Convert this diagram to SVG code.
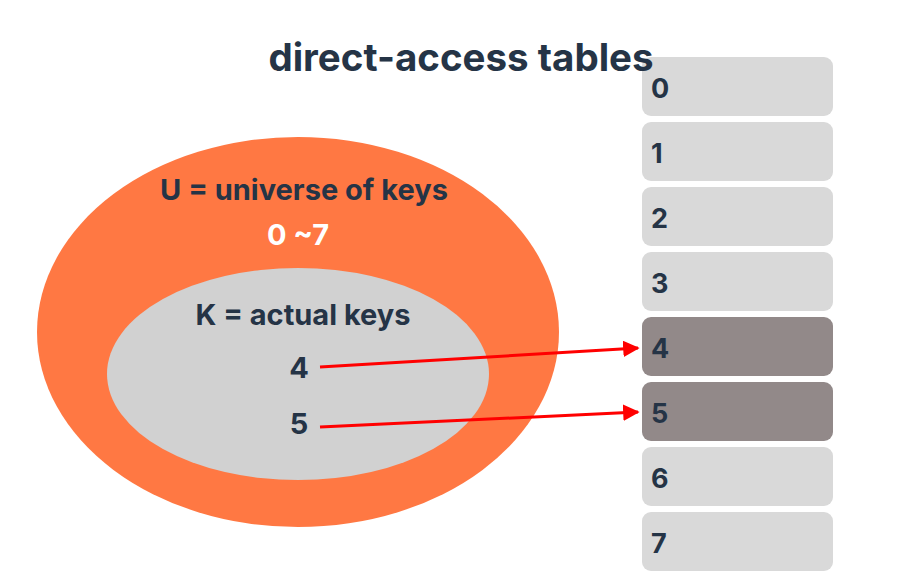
<svg xmlns="http://www.w3.org/2000/svg" width="900" height="585" viewBox="0 0 900 585">
<style>
text{font-family:Inter,"Liberation Sans",sans-serif;font-weight:700;fill:#253446}
.cell{fill:#d9d9d9}
.hit{fill:#928989}
.idx{font-size:27px}
.lbl{font-size:29px;text-anchor:middle}
.conn{stroke:#ff0000;stroke-width:3;fill:none}
</style>
<defs>
<marker id="ah" viewBox="0 0 10 10" refX="9" refY="5" markerWidth="5.5" markerHeight="5.5" markerUnits="strokeWidth" orient="auto">
<path d="M0,0 L10,5 L0,10 z" fill="#ff0000"/>
</marker>
</defs>
<rect width="900" height="585" fill="#ffffff"/>
<g id="universe">
<ellipse cx="298" cy="332" rx="261" ry="195" fill="#ff7843"/>
<text class="lbl" x="304" y="200">U = universe of keys</text>
<text class="lbl" x="298" y="245" style="fill:#ffffff">0 ~7</text>
</g>
<g id="actual-keys">
<ellipse cx="298" cy="374" rx="191" ry="106" fill="#d1d1d1"/>
<text class="lbl" x="303" y="325">K = actual keys</text>
</g>
<g id="key-4"><text class="lbl" x="299" y="378">4</text></g>
<g id="key-5"><text class="lbl" x="299" y="434">5</text></g>
<g id="slot-0"><rect class="cell" x="642" y="57" width="191" height="59" rx="9"/><text class="idx" x="651" y="98">0</text></g>
<g id="slot-1"><rect class="cell" x="642" y="122" width="191" height="59" rx="9"/><text class="idx" x="651" y="163">1</text></g>
<g id="slot-2"><rect class="cell" x="642" y="187" width="191" height="59" rx="9"/><text class="idx" x="651" y="228">2</text></g>
<g id="slot-3"><rect class="cell" x="642" y="252" width="191" height="59" rx="9"/><text class="idx" x="651" y="293">3</text></g>
<g id="slot-4"><rect class="hit" x="642" y="317" width="191" height="59" rx="9"/><text class="idx" x="651" y="358">4</text></g>
<g id="slot-5"><rect class="hit" x="642" y="382" width="191" height="59" rx="9"/><text class="idx" x="651" y="423">5</text></g>
<g id="slot-6"><rect class="cell" x="642" y="447" width="191" height="59" rx="9"/><text class="idx" x="651" y="488">6</text></g>
<g id="slot-7"><rect class="cell" x="642" y="512" width="191" height="59" rx="9"/><text class="idx" x="651" y="553">7</text></g>
<text x="461" y="71" style="font-size:38.5px;text-anchor:middle">direct-access tables</text>
<g id="connectors">
<line class="conn" x1="320" y1="367" x2="638" y2="348" marker-end="url(#ah)"/>
<line class="conn" x1="320" y1="427" x2="638" y2="412" marker-end="url(#ah)"/>
</g>
</svg>
